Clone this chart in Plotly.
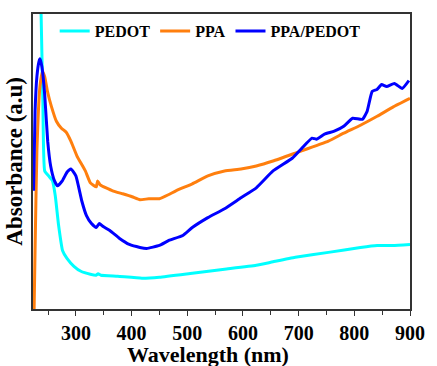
import plotly.graph_objects as go

# PEDOT (cyan)
pedot_x = [236, 240.7, 244, 251, 258, 263, 269, 276, 284, 296.5, 309, 326, 336, 340, 345, 375,
           418.6, 450, 509, 567, 624, 654, 694, 753.5, 811, 841, 869, 900]
pedot_y = [3.4, 2.09, 1.39, 1.34, 1.29, 1.14, 0.84, 0.59, 0.51, 0.43, 0.38, 0.35, 0.34, 0.355, 0.34, 0.33,
           0.31, 0.32, 0.36, 0.40, 0.44, 0.475, 0.52, 0.57, 0.62, 0.64, 0.64, 0.65]

# PPA (orange)
ppa_x = [225, 226.7, 230, 235.5, 240, 244, 249, 256, 265, 274, 282.6, 291, 302, 317, 326, 336.6, 339,
         343.6, 366, 384, 401, 415, 431, 450, 466, 479.6, 509, 537, 567, 596.5, 624, 654, 694, 753.5,
         781, 811, 841, 868.6, 900]
ppa_y = [0.0, 0.59, 1.59, 2.24, 2.39, 2.34, 2.19, 2.04, 1.89, 1.82, 1.78, 1.69, 1.54, 1.39, 1.27, 1.23, 1.29,
         1.25, 1.19, 1.16, 1.13, 1.10, 1.11, 1.11, 1.15, 1.19, 1.26, 1.34, 1.39, 1.41, 1.44, 1.49, 1.57, 1.69,
         1.77, 1.85, 1.94, 2.03, 2.12]

# PPA/PEDOT (blue)
blend_x = [224, 226.7, 230, 233.7, 235.5, 239, 244, 249.4, 254.7, 261.6, 267, 275.6, 284.3, 291, 300,
           310.5, 319, 328, 336.6, 342, 349, 361, 378.5, 396, 415, 427, 450, 467, 492, 509, 537, 567,
           596.5, 624, 654, 689, 706, 724, 732.5, 746.5, 764, 781, 797, 814.5, 823, 832, 840.7, 849, 858,
           872, 886, 898]
blend_y = [1.19, 1.99, 2.34, 2.49, 2.52, 2.44, 2.16, 1.69, 1.44, 1.29, 1.24, 1.29, 1.38, 1.41, 1.34,
           1.09, 0.94, 0.86, 0.82, 0.86, 0.83, 0.79, 0.71, 0.65, 0.62, 0.61, 0.64, 0.69, 0.74, 0.82, 0.92, 1.01,
           1.12, 1.22, 1.39, 1.52, 1.62, 1.72, 1.71, 1.76, 1.79, 1.84, 1.92, 1.91, 1.99, 2.19, 2.21, 2.26, 2.24,
           2.27, 2.22, 2.30]

series = [
    ("PEDOT", pedot_x, pedot_y, "#00FFFF"),
    ("PPA", ppa_x, ppa_y, "#FF7F0E"),
    ("PPA/PEDOT", blend_x, blend_y, "#0000FF"),
]

FONT = "Liberation Serif, Times New Roman, serif"

fig = go.Figure()
for name, xs, ys, col in series:
    fig.add_trace(go.Scatter(x=xs, y=ys, mode="lines", name=name,
                             line=dict(color=col, width=3, shape="spline", smoothing=0.4)))

fig.update_layout(
    width=437, height=366,
    margin=dict(l=33, r=16, t=12, b=57),
    paper_bgcolor="white", plot_bgcolor="white",
    font=dict(family=FONT, color="black"),
    showlegend=True,
    legend=dict(orientation="h", x=0.47, xanchor="center", y=1.0, yanchor="top",
                bgcolor="rgba(0,0,0,0)", font=dict(family=FONT, size=16, color="black", weight="bold"),
                itemwidth=30, tracegroupgap=0),
    xaxis=dict(range=[223, 900], showgrid=False, zeroline=False,
               showline=True, linecolor="#333333", linewidth=1.5, mirror=True,
               ticks="outside", ticklen=5, tickwidth=1, tickcolor="#333333",
               tick0=300, dtick=100,
               minor=dict(ticks="outside", ticklen=4, tickwidth=1, tickcolor="#333333", dtick=50, tick0=250),
               tickfont=dict(family=FONT, size=20, color="black", weight="bold")),
    yaxis=dict(range=[0, 2.97], showgrid=False, zeroline=False,
               showline=True, linecolor="#333333", linewidth=1.5, mirror=True,
               showticklabels=False, ticks=""),
    annotations=[
        dict(text="Wavelength (nm)", xref="paper", yref="paper", x=0.463, y=-0.153,
             xanchor="center", yanchor="middle", showarrow=False,
             font=dict(family=FONT, size=22, color="black", weight="bold")),
        dict(text="Absorbance (a.u)", xref="paper", yref="paper", x=-0.05, y=0.5,
             xanchor="center", yanchor="middle", showarrow=False, textangle=-90,
             font=dict(family=FONT, size=23, color="black", weight="bold")),
    ],
)

fig.write_html("out.html", config={"displayModeBar": False},
               post_script="document.body.style.margin='0';document.body.style.padding='0';")
